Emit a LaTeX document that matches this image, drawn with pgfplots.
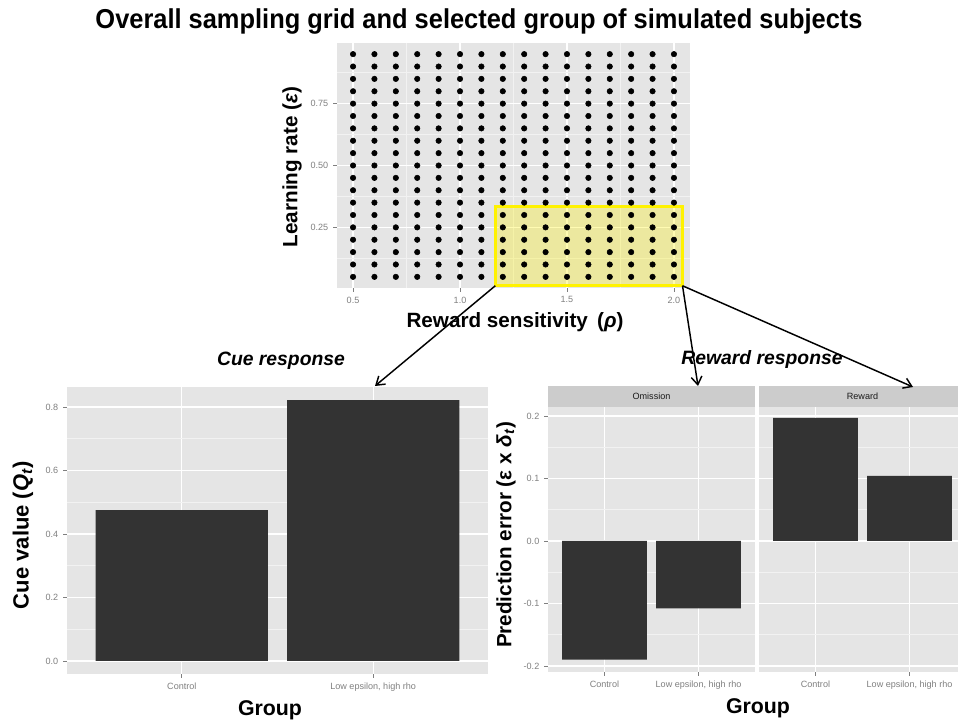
\documentclass[border=0pt]{standalone}
\usepackage{pgfplots}
\pgfplotsset{compat=1.18}
\usepackage{fontspec}
\setmainfont{Liberation Sans}
\newfontfamily\titlefont[FakeStretch=0.93]{Liberation Sans}
\usetikzlibrary{arrows.meta}
\definecolor{gg90}{HTML}{E5E5E5}
\definecolor{gg95}{HTML}{F2F2F2}
\definecolor{gg80}{HTML}{CCCCCC}
\definecolor{gg50}{HTML}{7F7F7F}
\definecolor{gg20}{HTML}{333333}
\definecolor{gg10}{HTML}{1A1A1A}
\pgfplotsset{
  ggbase/.style={
    scale only axis, anchor=south west,
    axis background/.style={fill=gg90},
    axis line style={draw=none},
    tick align=outside, tick pos=left,
    major tick length=3pt, minor tick length=0pt,
    every tick/.style={gg50, line width=0.6pt},
    grid=both,
    major grid style={white, line width=0.9pt},
    minor grid style={gg95, line width=0.45pt},
    tick label style={font=\fontsize{6.8}{7}\selectfont, text=gg50},
    /pgf/number format/assume math mode=true,
  },
}
\begin{document}
\begin{tikzpicture}
\useasboundingbox (0,0) rectangle (718.5pt,543pt);
% ---------- top grid panel
\begin{axis}[ggbase, at={(252.75pt,327pt)}, width=264.75pt, height=183.75pt,
  xmin=0.425, xmax=2.075, ymin=0.005, ymax=0.995,
  xtick={0.5,1.0,1.5,2.0}, xticklabels={0.5,1.0,1.5,2.0},
  minor xtick={0.75,1.25,1.75},
  ytick={0.25,0.5,0.75}, yticklabels={0.25,0.50,0.75},
  minor ytick={0.125,0.375,0.625,0.875}]
\addplot[only marks, mark=*, mark size=2.05pt, black] coordinates {
(0.5,0.05)(0.6,0.05)(0.7,0.05)(0.8,0.05)(0.9,0.05)(1.0,0.05)(1.1,0.05)(1.2,0.05)(1.3,0.05)(1.4,0.05)(1.5,0.05)(1.6,0.05)(1.7,0.05)(1.8,0.05)(1.9,0.05)(2.0,0.05)
(0.5,0.10)(0.6,0.10)(0.7,0.10)(0.8,0.10)(0.9,0.10)(1.0,0.10)(1.1,0.10)(1.2,0.10)(1.3,0.10)(1.4,0.10)(1.5,0.10)(1.6,0.10)(1.7,0.10)(1.8,0.10)(1.9,0.10)(2.0,0.10)
(0.5,0.15)(0.6,0.15)(0.7,0.15)(0.8,0.15)(0.9,0.15)(1.0,0.15)(1.1,0.15)(1.2,0.15)(1.3,0.15)(1.4,0.15)(1.5,0.15)(1.6,0.15)(1.7,0.15)(1.8,0.15)(1.9,0.15)(2.0,0.15)
(0.5,0.20)(0.6,0.20)(0.7,0.20)(0.8,0.20)(0.9,0.20)(1.0,0.20)(1.1,0.20)(1.2,0.20)(1.3,0.20)(1.4,0.20)(1.5,0.20)(1.6,0.20)(1.7,0.20)(1.8,0.20)(1.9,0.20)(2.0,0.20)
(0.5,0.25)(0.6,0.25)(0.7,0.25)(0.8,0.25)(0.9,0.25)(1.0,0.25)(1.1,0.25)(1.2,0.25)(1.3,0.25)(1.4,0.25)(1.5,0.25)(1.6,0.25)(1.7,0.25)(1.8,0.25)(1.9,0.25)(2.0,0.25)
(0.5,0.30)(0.6,0.30)(0.7,0.30)(0.8,0.30)(0.9,0.30)(1.0,0.30)(1.1,0.30)(1.2,0.30)(1.3,0.30)(1.4,0.30)(1.5,0.30)(1.6,0.30)(1.7,0.30)(1.8,0.30)(1.9,0.30)(2.0,0.30)
(0.5,0.35)(0.6,0.35)(0.7,0.35)(0.8,0.35)(0.9,0.35)(1.0,0.35)(1.1,0.35)(1.2,0.35)(1.3,0.35)(1.4,0.35)(1.5,0.35)(1.6,0.35)(1.7,0.35)(1.8,0.35)(1.9,0.35)(2.0,0.35)
(0.5,0.40)(0.6,0.40)(0.7,0.40)(0.8,0.40)(0.9,0.40)(1.0,0.40)(1.1,0.40)(1.2,0.40)(1.3,0.40)(1.4,0.40)(1.5,0.40)(1.6,0.40)(1.7,0.40)(1.8,0.40)(1.9,0.40)(2.0,0.40)
(0.5,0.45)(0.6,0.45)(0.7,0.45)(0.8,0.45)(0.9,0.45)(1.0,0.45)(1.1,0.45)(1.2,0.45)(1.3,0.45)(1.4,0.45)(1.5,0.45)(1.6,0.45)(1.7,0.45)(1.8,0.45)(1.9,0.45)(2.0,0.45)
(0.5,0.50)(0.6,0.50)(0.7,0.50)(0.8,0.50)(0.9,0.50)(1.0,0.50)(1.1,0.50)(1.2,0.50)(1.3,0.50)(1.4,0.50)(1.5,0.50)(1.6,0.50)(1.7,0.50)(1.8,0.50)(1.9,0.50)(2.0,0.50)
(0.5,0.55)(0.6,0.55)(0.7,0.55)(0.8,0.55)(0.9,0.55)(1.0,0.55)(1.1,0.55)(1.2,0.55)(1.3,0.55)(1.4,0.55)(1.5,0.55)(1.6,0.55)(1.7,0.55)(1.8,0.55)(1.9,0.55)(2.0,0.55)
(0.5,0.60)(0.6,0.60)(0.7,0.60)(0.8,0.60)(0.9,0.60)(1.0,0.60)(1.1,0.60)(1.2,0.60)(1.3,0.60)(1.4,0.60)(1.5,0.60)(1.6,0.60)(1.7,0.60)(1.8,0.60)(1.9,0.60)(2.0,0.60)
(0.5,0.65)(0.6,0.65)(0.7,0.65)(0.8,0.65)(0.9,0.65)(1.0,0.65)(1.1,0.65)(1.2,0.65)(1.3,0.65)(1.4,0.65)(1.5,0.65)(1.6,0.65)(1.7,0.65)(1.8,0.65)(1.9,0.65)(2.0,0.65)
(0.5,0.70)(0.6,0.70)(0.7,0.70)(0.8,0.70)(0.9,0.70)(1.0,0.70)(1.1,0.70)(1.2,0.70)(1.3,0.70)(1.4,0.70)(1.5,0.70)(1.6,0.70)(1.7,0.70)(1.8,0.70)(1.9,0.70)(2.0,0.70)
(0.5,0.75)(0.6,0.75)(0.7,0.75)(0.8,0.75)(0.9,0.75)(1.0,0.75)(1.1,0.75)(1.2,0.75)(1.3,0.75)(1.4,0.75)(1.5,0.75)(1.6,0.75)(1.7,0.75)(1.8,0.75)(1.9,0.75)(2.0,0.75)
(0.5,0.80)(0.6,0.80)(0.7,0.80)(0.8,0.80)(0.9,0.80)(1.0,0.80)(1.1,0.80)(1.2,0.80)(1.3,0.80)(1.4,0.80)(1.5,0.80)(1.6,0.80)(1.7,0.80)(1.8,0.80)(1.9,0.80)(2.0,0.80)
(0.5,0.85)(0.6,0.85)(0.7,0.85)(0.8,0.85)(0.9,0.85)(1.0,0.85)(1.1,0.85)(1.2,0.85)(1.3,0.85)(1.4,0.85)(1.5,0.85)(1.6,0.85)(1.7,0.85)(1.8,0.85)(1.9,0.85)(2.0,0.85)
(0.5,0.90)(0.6,0.90)(0.7,0.90)(0.8,0.90)(0.9,0.90)(1.0,0.90)(1.1,0.90)(1.2,0.90)(1.3,0.90)(1.4,0.90)(1.5,0.90)(1.6,0.90)(1.7,0.90)(1.8,0.90)(1.9,0.90)(2.0,0.90)
(0.5,0.95)(0.6,0.95)(0.7,0.95)(0.8,0.95)(0.9,0.95)(1.0,0.95)(1.1,0.95)(1.2,0.95)(1.3,0.95)(1.4,0.95)(1.5,0.95)(1.6,0.95)(1.7,0.95)(1.8,0.95)(1.9,0.95)(2.0,0.95)
};
\draw[yellow, line width=1.9pt, fill=yellow, fill opacity=0.3] (axis cs:1.165,0.014) rectangle (axis cs:2.04,0.334);
\coordinate (ybl) at (axis cs:1.165,0.014);
\coordinate (ybr) at (axis cs:2.04,0.014);
\end{axis}
% ---------- bottom left
\begin{axis}[ggbase, at={(50.25pt,37.5pt)}, width=315.75pt, height=215.25pt,
  xmin=0.4, xmax=2.6, ymin=-0.041, ymax=0.863,
  xtick={1,2}, xticklabels={Control,{Low epsilon, high rho}},
  ytick={0,0.2,0.4,0.6,0.8}, yticklabels={0.0,0.2,0.4,0.6,0.8},
  minor ytick={0.1,0.3,0.5,0.7}]
\addplot[ybar, bar width=0.9, fill=gg20, draw=none] coordinates {(1,0.475) (2,0.822)};
\end{axis}
% ---------- bottom right: Omission
\begin{axis}[ggbase, name=om, at={(411pt,39pt)}, width=155.25pt, height=198.75pt,
  xmin=0.4, xmax=2.6, ymin=-0.2096, ymax=0.2144,
  xtick={1,2}, xticklabels={Control,{Low epsilon, high rho}},
  ytick={-0.2,-0.1,0,0.1,0.2}, yticklabels={-0.2,-0.1,0.0,0.1,0.2},
  minor ytick={-0.15,-0.05,0.05,0.15}]
\addplot[ybar, bar width=0.9, fill=gg20, draw=none] coordinates {(1,-0.19) (2,-0.108)};
\end{axis}
% ---------- bottom right: Reward
\begin{axis}[ggbase, name=rw, at={(569.25pt,39pt)}, width=155.25pt, height=198.75pt,
  xmin=0.4, xmax=2.6, ymin=-0.2096, ymax=0.2144,
  xtick={1,2}, xticklabels={Control,{Low epsilon, high rho}},
  ytick={-0.2,-0.1,0,0.1,0.2}, yticklabels={}, ytick style={draw=none},
  minor ytick={-0.15,-0.05,0.05,0.15}]
\addplot[ybar, bar width=0.9, fill=gg20, draw=none] coordinates {(1,0.197) (2,0.104)};
\end{axis}
% strips
\fill[gg80] (om.north west) rectangle ([yshift=15.75pt]om.north east);
\fill[gg80] (rw.north west) rectangle ([yshift=15.75pt]rw.north east);
\node[font=\fontsize{6.8}{7}\selectfont, text=gg10] at ([yshift=7.9pt]om.north) {Omission};
\node[font=\fontsize{6.8}{7}\selectfont, text=gg10] at ([yshift=7.9pt]rw.north) {Reward};
% titles and labels
\node[font=\titlefont\bfseries\fontsize{20.5}{24}\selectfont] at (359.25pt,527pt) {Overall sampling grid and selected group of simulated subjects};
\node[font=\bfseries\fontsize{15.5}{18}\selectfont, rotate=90] at (219pt,417.75pt) {Learning rate (\textit{ε})};
\node[font=\bfseries\fontsize{15.5}{18}\selectfont] at (386.25pt,301.5pt) {Reward sensitivity\, (\textit{ρ})};
\node[font=\bfseries\itshape\fontsize{14.5}{17}\selectfont] at (210.75pt,272.25pt) {Cue response};
\node[font=\bfseries\itshape\fontsize{14.5}{17}\selectfont] at (571.5pt,273pt) {Reward response};
\node[font=\bfseries\fontsize{16.5}{18}\selectfont, rotate=90] at (17.25pt,141.75pt) {Cue value (\textit{Q}\textsubscript{\textit{t}})};
\node[font=\bfseries\fontsize{15.5}{18}\selectfont, rotate=90] at (379.5pt,141.75pt) {Prediction error (ε x \textit{δ}\textsubscript{\textit{t}})};
\node[font=\bfseries\fontsize{16}{18}\selectfont] at (202.5pt,10.5pt) {Group};
\node[font=\bfseries\fontsize{16}{18}\selectfont] at (568.5pt,12pt) {Group};
% arrows
\draw[black, line width=1.1pt, -{Straight Barb[length=6pt,width=8pt]}] (ybl) -- (281.25pt,253.5pt);
\draw[black, line width=1.1pt, -{Straight Barb[length=6pt,width=8pt]}] (ybr) -- (523.5pt,253.5pt);
\draw[black, line width=1.1pt, -{Straight Barb[length=6pt,width=8pt]}] (ybr) -- (684.75pt,252.75pt);
\end{tikzpicture}
\end{document}
